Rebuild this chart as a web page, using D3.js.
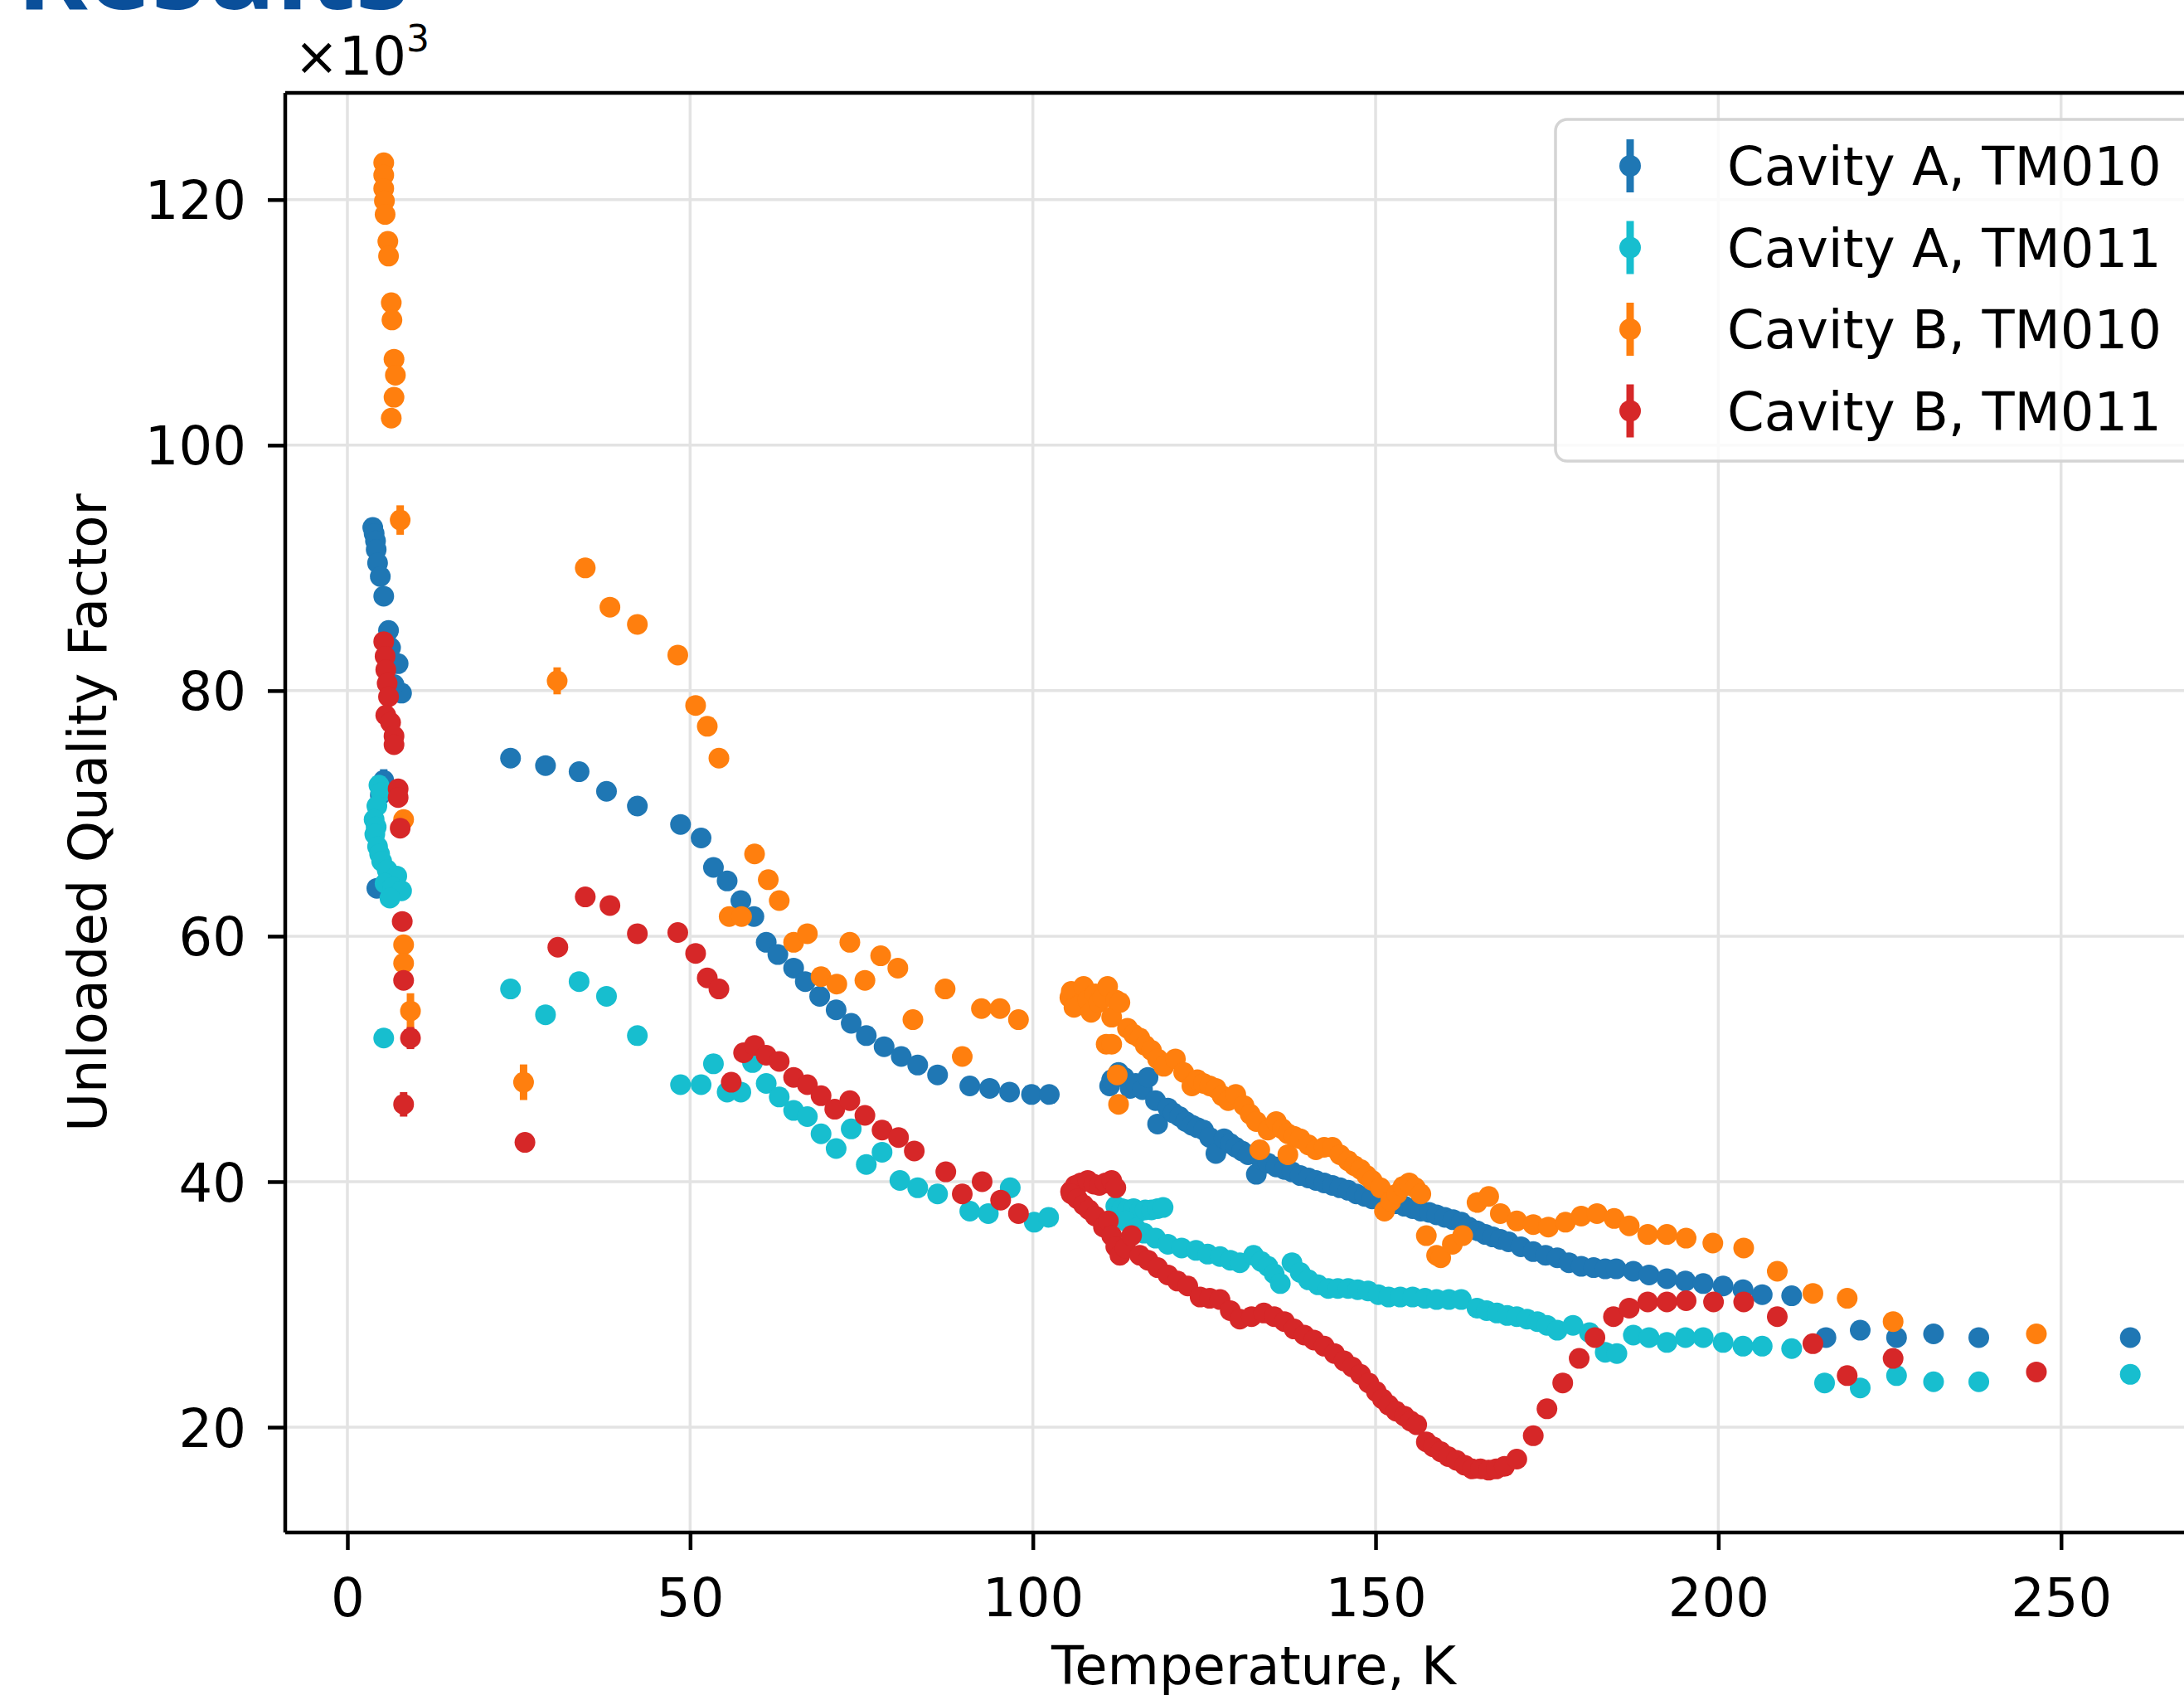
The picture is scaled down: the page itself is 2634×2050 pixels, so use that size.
<!DOCTYPE html>
<html>
<head>
<meta charset="utf-8">
<script src="https://cdn.jsdelivr.net/npm/d3@7"></script>
<style>
  html, body { margin: 0; padding: 0; background: #ffffff; }
  svg { display: block; }
</style>
</head>
<body>
<svg id="chart" width="2634" height="2050"></svg>
<script>
// ---------------- DATA (Temperature K, Q ×10^3, error ×10^3 optional) ----------------
const seriesNames = ["Cavity A, TM010", "Cavity A, TM011", "Cavity B, TM010", "Cavity B, TM011"];
const seriesColors = ["#1f77b4", "#17becf", "#ff7f0e", "#d62728"];
const xTickValues = [0, 50, 100, 150, 200, 250];
const yTickValues = [20, 40, 60, 80, 100, 120];

const cavityA_TM010 = [
  [3.7,93.3],[3.9,92.8],[4.1,92.2],[4.2,91.5],[4.4,90.4],[4.8,89.3],[5.3,87.7],[6.0,84.9],[6.3,83.5],
  [7.4,82.2],[7.9,79.8],[6.8,80.5],[5.3,72.7,0.9],[4.8,71.5],[4.3,63.9],
  [23.8,74.5],[28.9,73.9],[33.8,73.4],[37.8,71.8],[42.3,70.6],[48.6,69.1],[51.6,68.0],[53.4,65.6],
  [55.4,64.5],[57.4,62.9],[59.3,61.6],[61.1,59.5],[62.8,58.5],[65.1,57.4],[66.8,56.3],[68.9,55.1],
  [71.3,54.0],[73.5,52.9],[75.7,51.9],[78.3,51.0],[80.8,50.2],[83.2,49.5],[86.1,48.7],[90.8,47.8],
  [93.7,47.6],[96.6,47.3],[99.8,47.1],[102.4,47.1],
  [111.2,47.8],[111.5,48.3],[112.5,48.9],[113.3,48.5],[114.2,47.6],[115.0,48.0],[116.0,47.5],[116.8,48.5],
  [117.9,46.6],[118.2,44.7],[119.7,46.0],[120.5,45.6],[121.4,45.3],[122.3,44.9],[123.2,44.6],[124.0,44.4],
  [124.9,44.2],[125.8,43.6],[126.7,42.3],[127.9,43.5],[128.8,43.1],[129.6,42.8],[130.5,42.5],[131.4,42.2],
  [132.6,40.6],[133.3,41.8],[134.3,41.5],[135.5,41.2],[136.7,41.0],[137.8,40.8],[139.0,40.5],[140.2,40.3],
  [141.3,40.1],[142.5,39.9],[143.7,39.7],[144.8,39.5],[146.0,39.3],[147.2,39.0],[148.4,38.8],[149.5,38.6],
  [150.7,38.5],[151.9,38.3],[153.1,38.2],[154.2,38.0],[155.4,37.8],[156.6,37.6],[157.8,37.5],[158.9,37.3],
  [160.1,37.1],[161.3,36.9],[162.5,36.7],[163.6,36.3],[164.8,36.0],[166.0,35.7],[167.1,35.5],[168.2,35.3],
  [169.4,35.1],[171.2,34.7],[173.0,34.3],[174.8,34.0],[176.5,33.8],[178.2,33.4],[180.0,33.1],[181.8,33.0],
  [183.5,32.9],[185.1,32.9],[187.6,32.7],[189.9,32.4],[192.5,32.1],[195.2,31.9],[197.8,31.7],[200.7,31.5],
  [203.6,31.2],[206.4,30.8],[210.7,30.7],[215.7,27.3],[220.7,27.9],[226.0,27.3],[231.4,27.6],[238.0,27.3],
  [260.1,27.3]
];

const cavityA_TM011 = [
  [4.6,72.3],[4.9,71.7],[4.3,70.6],[3.9,69.5],[4.2,68.9],[4.0,68.3],[4.4,67.3],[4.7,66.7],[5.0,66.1],
  [5.8,65.4],[7.2,64.9],[5.5,64.3],[6.6,64.0],[7.9,63.7],[6.2,63.1],[5.3,51.7],
  [23.8,55.7],[28.9,53.6],[33.8,56.3],[37.8,55.1],[42.3,51.9],[48.6,47.9],[51.6,47.9],[53.4,49.6],
  [55.4,47.3],[57.4,47.3],[59.1,49.7],[61.1,48.0],[63.0,46.9],[65.1,45.8],[67.1,45.3],[69.1,43.9],
  [71.3,42.7],[73.5,44.3],[75.7,41.4],[78.0,42.4],[80.6,40.1],[83.2,39.5],[86.1,39.0],[90.8,37.6],
  [93.5,37.4],[96.7,39.5],[100.2,36.7],[102.3,37.1],
  [112.1,38.0],[113.0,37.8],[113.8,37.7],[114.7,37.8],[115.6,37.6],[116.4,37.7],[117.3,37.7],[118.2,37.8],
  [119.0,37.9],[113.5,36.8],[115.0,36.2],[116.2,35.8],[117.9,35.4],[119.7,34.9],[121.7,34.6],[123.8,34.4],
  [125.5,34.1],[127.3,33.9],[128.8,33.6],[130.2,33.4],[132.2,34.0],[133.3,33.5],[134.3,33.1],[135.2,32.5],
  [136.1,31.7],[137.8,33.4],[139.0,32.6],[140.2,32.0],[141.6,31.6],[143.1,31.3],[144.5,31.3],[146.0,31.3],
  [147.4,31.2],[148.9,31.1],[150.4,30.8],[151.9,30.6],[153.6,30.6],[155.4,30.6],[157.2,30.5],[158.9,30.4],
  [160.7,30.4],[162.5,30.4],[164.8,29.7],[166.2,29.5],[167.7,29.3],[169.2,29.1],[170.6,29.0],[172.1,28.8],
  [173.6,28.6],[175.0,28.3],[176.5,27.9],[178.8,28.3],[181.2,27.7],[183.5,26.1],[185.2,26.0],[187.6,27.5],
  [189.9,27.3],[192.5,26.9],[195.2,27.3],[197.8,27.3],[200.7,26.9],[203.6,26.6],[206.4,26.6],[210.7,26.4],
  [215.5,23.6],[220.7,23.2],[226.0,24.2],[231.4,23.7],[238.0,23.7],[260.1,24.3]
];

const cavityB_TM010 = [
  [5.3,123.0],[5.3,122.0],[5.3,120.9],[5.4,119.9],[5.5,118.8],[5.9,116.6],[6.0,115.4],[6.4,111.6],
  [6.5,110.2],[6.8,107.0],[7.0,105.7],[6.8,103.9],[6.4,102.2],[7.7,93.9,1.2],[8.2,69.5],[8.2,59.3],
  [8.2,57.8],[9.2,53.9,1.45],
  [25.7,48.1,1.45],[30.6,80.8,1.1],[34.7,90.0],[38.3,86.8],[42.3,85.4],[48.2,82.9],[50.8,78.8],[52.5,77.1],
  [54.2,74.5],[55.7,61.6],[57.5,61.6],[59.4,66.7],[61.4,64.6],[63.0,62.9],[65.1,59.5],[67.1,60.2],
  [69.1,56.7],[71.4,56.1],[73.3,59.5],[75.5,56.4],[77.8,58.4],[80.3,57.4],[82.5,53.2],[87.2,55.7],
  [89.7,50.2],[92.5,54.1],[95.2,54.1],[97.9,53.2],
  [105.4,55.0],[105.6,55.5],[106.0,54.2],[106.8,54.4],[107.4,55.9],[108.0,54.8],[108.5,53.8],[109.1,55.3],
  [109.6,54.6],[110.2,55.0],[110.9,55.9],[111.5,53.4],[112.1,54.8],[112.7,54.6],[110.7,51.2],[111.5,51.2],
  [112.3,48.7],[112.5,46.3],[113.8,52.5],[114.7,52.0],[115.6,51.7],[116.4,51.1],[117.3,50.7],[118.2,50.0],
  [119.1,49.4],[120.8,50.0],[122.0,48.9],[123.2,47.8],[124.0,48.3],[124.9,48.0],[125.8,47.8],[126.7,47.6],
  [127.6,47.0],[128.5,46.6],[129.6,47.1],[130.8,46.2],[131.7,45.5],[132.6,44.9],[133.1,42.6],[134.3,44.2],
  [135.5,44.9],[136.4,44.3],[137.2,42.2],[137.2,43.9],[138.1,43.7],[139.0,43.5],[140.2,43.0],[141.3,42.6],
  [142.5,42.8],[143.7,42.8],[144.8,42.2],[146.0,41.7],[146.9,41.3],[147.8,41.0],[148.7,40.5],[149.5,40.1],
  [150.7,39.5],[151.3,37.6],[152.2,38.4],[153.1,39.0],[154.0,39.6],[154.9,39.9],[155.8,39.5],[156.6,39.0],
  [157.4,35.6],[158.9,34.0],[159.5,33.8],[161.2,34.9],[162.7,35.6],[164.8,38.3],[166.5,38.8],[168.2,37.4],
  [170.6,36.8],[173.0,36.5],[175.2,36.3],[177.7,36.7],[180.0,37.2],[182.3,37.4],[184.8,37.0],[187.0,36.4],
  [189.7,35.7],[192.5,35.7],[195.3,35.4],[199.2,35.0],[203.7,34.6],[208.6,32.7],[213.8,30.9],[218.8,30.5],
  [225.5,28.6],[246.4,27.6]
];

const cavityB_TM011 = [
  [5.3,84.0],[5.5,82.8],[5.6,81.7],[5.8,80.6],[6.0,79.5],[5.6,78.0],[6.3,77.4],[6.8,76.3],[6.8,75.6],
  [7.4,72.0],[7.4,71.3],[7.7,68.8],[8.0,61.2],[8.2,56.4],[9.2,51.7,0.9],[8.2,46.3,1.0],
  [25.9,43.2],[30.7,59.1],[34.7,63.2],[38.3,62.5],[42.3,60.2],[48.2,60.3],[50.8,58.6],[52.5,56.6],
  [54.2,55.7],[56.0,48.1],[57.8,50.5],[59.4,51.1],[61.1,50.3],[63.0,49.8],[65.1,48.5],[67.1,47.9],
  [69.1,47.0],[71.1,45.9],[73.3,46.6],[75.5,45.4],[78.0,44.2],[80.4,43.6],[82.7,42.5],[87.3,40.8],
  [89.7,39.0],[92.6,40.0],[95.3,38.5],[97.9,37.4],
  [105.5,39.2],[106.2,39.7],[107.0,39.9],[108.0,40.1],[108.9,39.8],[109.7,39.7],[110.6,39.9],[111.5,40.1],
  [112.1,39.5],[105.6,39.0],[106.5,38.6],[107.4,38.1],[108.2,37.7],[109.1,37.2],[110.3,36.3],[111.0,36.8],
  [111.5,35.6],[112.1,34.7],[112.7,34.0],[113.5,34.6],[114.4,35.6],[115.6,34.0],[116.8,33.6],[118.2,33.0],
  [119.7,32.4],[121.1,31.9],[122.6,31.5],[124.4,30.6],[125.8,30.5],[127.3,30.4],[128.8,29.5],[130.2,28.8],
  [131.9,29.0],[133.7,29.3],[135.2,29.0],[136.7,28.6],[138.1,28.0],[139.6,27.5],[141.0,27.1],[142.5,26.6],
  [144.0,26.0],[145.4,25.4],[146.6,24.9],[147.8,24.3],[149.0,23.6],[150.1,22.9],[151.0,22.3],[151.9,21.8],
  [153.0,21.3],[154.2,20.9],[155.1,20.5],[156.0,20.2],[157.4,18.8],[158.4,18.4],[159.5,18.0],[160.6,17.6],
  [161.8,17.3],[163.0,16.9],[164.1,16.6],[165.3,16.6],[166.5,16.5],[167.6,16.6],[168.8,16.8],[170.6,17.4],
  [173.0,19.3],[175.0,21.5],[177.3,23.6],[179.7,25.6],[182.0,27.3],[184.7,29.0],[187.0,29.7],[189.7,30.2],
  [192.5,30.2],[195.3,30.3],[199.3,30.2],[203.7,30.2],[208.6,29.0],[213.8,26.8],[218.8,24.2],[225.5,25.6],
  [246.4,24.5]
];

const allSeries = [cavityA_TM010, cavityA_TM011, cavityB_TM010, cavityB_TM011];
const defaultErr = 0.35;

// ---------------- LAYOUT ----------------
const W = 2634, H = 2050;
const plot = { left: 344, right: 2680, top: 112, bottom: 1848 };
const FONT = "'DejaVu Sans', 'Liberation Sans', sans-serif";
const FS = 64;

const svg = d3.select("#chart");

// Heading (cut off at the top edge, as in the source slide) — in its own small viewport
const head = svg.append("svg")
  .attr("x", 0).attr("y", 0).attr("width", 620).attr("height", 18)
  .attr("overflow", "hidden");
head.append("text")
  .attr("x", 20).attr("y", 11)
  .attr("font-family", "'Open Sans', 'DejaVu Sans', sans-serif")
  .attr("font-weight", "700")
  .attr("font-size", 130)
  .attr("fill", "#0a4f9a")
  .text("Results");

const x = d3.scaleLinear().domain([-9.07, 273.5]).range([plot.left, plot.right]);
const y = d3.scaleLinear().domain([11.42, 128.7]).range([plot.bottom, plot.top]);

const clipId = "plotclip";
svg.append("defs").append("clipPath").attr("id", clipId)
  .append("rect")
  .attr("x", plot.left).attr("y", plot.top)
  .attr("width", plot.right - plot.left).attr("height", plot.bottom - plot.top);

// Grid
const grid = svg.append("g").attr("stroke", "#e3e3e3").attr("stroke-width", 3.5);
grid.selectAll(".gx").data(xTickValues).join("line")
  .attr("x1", d => x(d)).attr("x2", d => x(d))
  .attr("y1", plot.top).attr("y2", plot.bottom);
grid.selectAll(".gy").data(yTickValues).join("line")
  .attr("x1", plot.left).attr("x2", plot.right)
  .attr("y1", d => y(d)).attr("y2", d => y(d));

// Data
const dataG = svg.append("g").attr("clip-path", `url(#${clipId})`);
allSeries.forEach((s, i) => {
  const g = dataG.append("g");
  g.selectAll("line").data(s).join("line")
    .attr("x1", d => x(d[0])).attr("x2", d => x(d[0]))
    .attr("y1", d => y(d[1] - (d[2] ?? defaultErr)))
    .attr("y2", d => y(d[1] + (d[2] ?? defaultErr)))
    .attr("stroke", seriesColors[i]).attr("stroke-width", 9);
  g.selectAll("circle").data(s).join("circle")
    .attr("cx", d => x(d[0])).attr("cy", d => y(d[1]))
    .attr("r", 12.5)
    .attr("fill", seriesColors[i]);
});

// Axes
const xAxis = d3.axisBottom(x).tickValues(xTickValues).tickSize(21).tickPadding(12).tickFormat(d3.format("d"));
const yAxis = d3.axisLeft(y).tickValues(yTickValues).tickSize(21).tickPadding(26).tickFormat(d3.format("d"));

const gx = svg.append("g").attr("transform", `translate(0,${plot.bottom})`).call(xAxis);
const gy = svg.append("g").attr("transform", `translate(${plot.left},0)`).call(yAxis);
[gx, gy].forEach(g => {
  g.select(".domain").remove();
  g.selectAll(".tick line").attr("stroke", "#000").attr("stroke-width", 4.5);
  g.selectAll(".tick text").attr("font-family", FONT).attr("font-size", FS).attr("fill", "#000");
});
gx.selectAll(".tick text").attr("y", 101).attr("dy", null);
gy.selectAll(".tick text").attr("dy", "0.36em");

// Frame (spines)
const frame = svg.append("g").attr("stroke", "#000").attr("stroke-width", 4.5).attr("fill", "none");
frame.append("line").attr("x1", plot.left).attr("x2", plot.right).attr("y1", plot.bottom).attr("y2", plot.bottom);
frame.append("line").attr("x1", plot.left).attr("x2", plot.right).attr("y1", plot.top).attr("y2", plot.top);
frame.append("line").attr("x1", plot.left).attr("x2", plot.left).attr("y1", plot.top).attr("y2", plot.bottom);
frame.append("line").attr("x1", plot.right).attr("x2", plot.right).attr("y1", plot.top).attr("y2", plot.bottom);

// Offset text ×10^3
const off = svg.append("text").attr("x", 355).attr("y", 90)
  .attr("font-family", FONT).attr("font-size", FS).attr("fill", "#000");
off.append("tspan").text("×10");
off.append("tspan").attr("font-size", 44).attr("dy", -28).text("3");

// Axis labels
svg.append("text")
  .attr("x", (plot.left + plot.right) / 2).attr("y", 2031)
  .attr("text-anchor", "middle")
  .attr("font-family", FONT).attr("font-size", FS).attr("fill", "#000")
  .text("Temperature, K");
svg.append("text")
  .attr("transform", `translate(128,${(plot.top + plot.bottom) / 2}) rotate(-90)`)
  .attr("text-anchor", "middle")
  .attr("font-family", FONT).attr("font-size", FS).attr("fill", "#000")
  .text("Unloaded Quality Factor");

// Legend
const leg = svg.append("g");
leg.append("rect")
  .attr("x", 1876).attr("y", 144).attr("width", 900).attr("height", 412)
  .attr("rx", 14).attr("ry", 14)
  .attr("fill", "#ffffff").attr("fill-opacity", 0.8)
  .attr("stroke", "#d4d4d4").attr("stroke-width", 3.5);
const rowY = [200, 298.5, 397, 495.5];
seriesNames.forEach((name, i) => {
  const row = leg.append("g").attr("transform", `translate(0,${rowY[i]})`);
  row.append("line").attr("x1", 1966).attr("x2", 1966).attr("y1", -32).attr("y2", 32)
    .attr("stroke", seriesColors[i]).attr("stroke-width", 9);
  row.append("circle").attr("cx", 1966).attr("cy", 0).attr("r", 13).attr("fill", seriesColors[i]);
  row.append("text").attr("x", 2083).attr("y", 0).attr("dy", "0.36em")
    .attr("font-family", FONT).attr("font-size", FS).attr("fill", "#000")
    .text(name);
});
</script>
</body>
</html>
